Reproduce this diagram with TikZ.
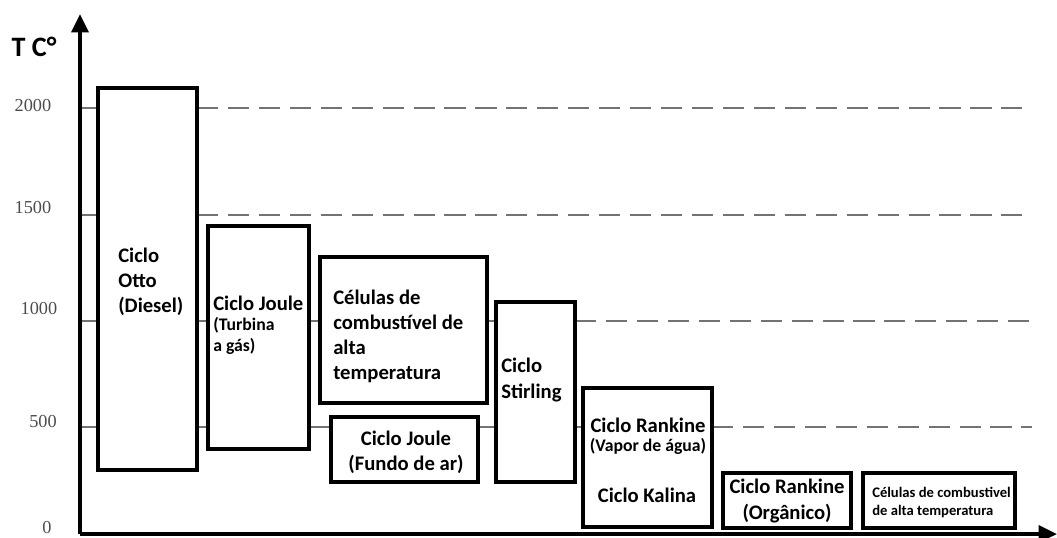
\documentclass[tikz,border=0pt]{standalone}
\usepackage{fontspec}
\setmainfont{Carlito}
\newfontfamily\tickfont{Liberation Serif}
\usetikzlibrary{arrows.meta}

\tikzset{
  box/.style={draw=black,line width=2.6pt,fill=white},
  gridline/.style={black!55,line width=1pt},
  griddash/.style={black!55,line width=1.3pt,dash pattern=on 15pt off 7pt},
  ticklbl/.style={font=\tickfont\fontsize{13}{15}\selectfont,text=black!70,inner sep=0pt},
  txt/.style={font=\bfseries\fontsize{14.7}{17.8}\selectfont,inner sep=0pt,align=left},
  txtc/.style={txt,align=center},
  small/.style={font=\bfseries\fontsize{12.6}{15}\selectfont,inner sep=0pt,align=left},
  tiny/.style={font=\bfseries\fontsize{10.4}{12.8}\selectfont,inner sep=0pt,align=left}
}

\begin{document}
\begin{tikzpicture}[x=0.025cm,y=-0.025cm]
  \useasboundingbox (0,0) rectangle (1057,538);
  % grid lines
  \draw[gridline] (80,108) -- (197,108);
  \draw[griddash] (197,108) -- (1032,108);
  \draw[gridline] (80,215) -- (197,215);
  \draw[griddash] (197,215) -- (1032,215);
  \draw[gridline] (80,321) -- (575,321);
  \draw[griddash] (575,321) -- (1032,321);
  \draw[gridline] (80,427) -- (712,427);
  \draw[griddash] (712,427) -- (1032,427);
  % boxes
  \draw[box] (98,88) rectangle (197,470);
  \draw[box] (208,226) rectangle (309,449);
  \draw[box] (320,257) rectangle (487,403);
  \draw[box] (331,417) rectangle (478,482);
  \draw[box] (496,302) rectangle (575,482);
  \draw[box] (583,388) rectangle (712,527);
  \draw[box] (723,473) rectangle (851,528);
  \draw[box] (863,473) rectangle (1015,528);
  % axes
  \coordinate (origin) at (80,534);
  \coordinate (ytop) at (80,14);
  \coordinate (xend) at (1057,534);
  \draw[line width=2.6pt,-{Triangle[length=13pt,width=12pt]}] (origin) -- (ytop);
  \draw[line width=2.6pt,-{Triangle[length=13pt,width=12pt]}] (origin) -- (xend);
  % axis labels
  \node[font=\bfseries\fontsize{20}{24}\selectfont,inner sep=0pt] (tc) at (34,47) {T C°};
  \node[ticklbl] (t2000) at (33,106) {2000};
  \node[ticklbl] (t1500) at (33,208) {1500};
  \node[ticklbl] (t1000) at (39,309) {1000};
  \node[ticklbl] (t500) at (43,422) {500};
  \node[ticklbl] (t0) at (47,528) {0};
  % box texts
  \node[txt,anchor=west] (otto) at (118,282) {Ciclo\\Otto\\(Diesel)};
  \node[txt,anchor=west] (joule) at (213,303) {Ciclo Joule};
  \node[small,anchor=west] (turbina) at (213,336) {(Turbina\\a gás)};
  \node[txt,anchor=west] (celulas) at (333,336) {Células de\\combustível de\\alta\\temperatura};
  \node[txtc] (fundo) at (406,452) {Ciclo Joule\\(Fundo de ar)};
  \node[txt,anchor=west] (stirling) at (501,380) {Ciclo\\Stirling};
  \node[txtc] (rankine) at (648,425) {Ciclo Rankine};
  \node[small] (vapor) at (648,446) {(Vapor de água)};
  \node[txtc] (kalina) at (647,495) {Ciclo Kalina};
  \node[txtc] (organico) at (787,501) {Ciclo Rankine\\(Orgânico)};
  \node[tiny,anchor=west] (celpeq) at (872,503) {Células de combustivel\\de alta temperatura};
\end{tikzpicture}
\end{document}
